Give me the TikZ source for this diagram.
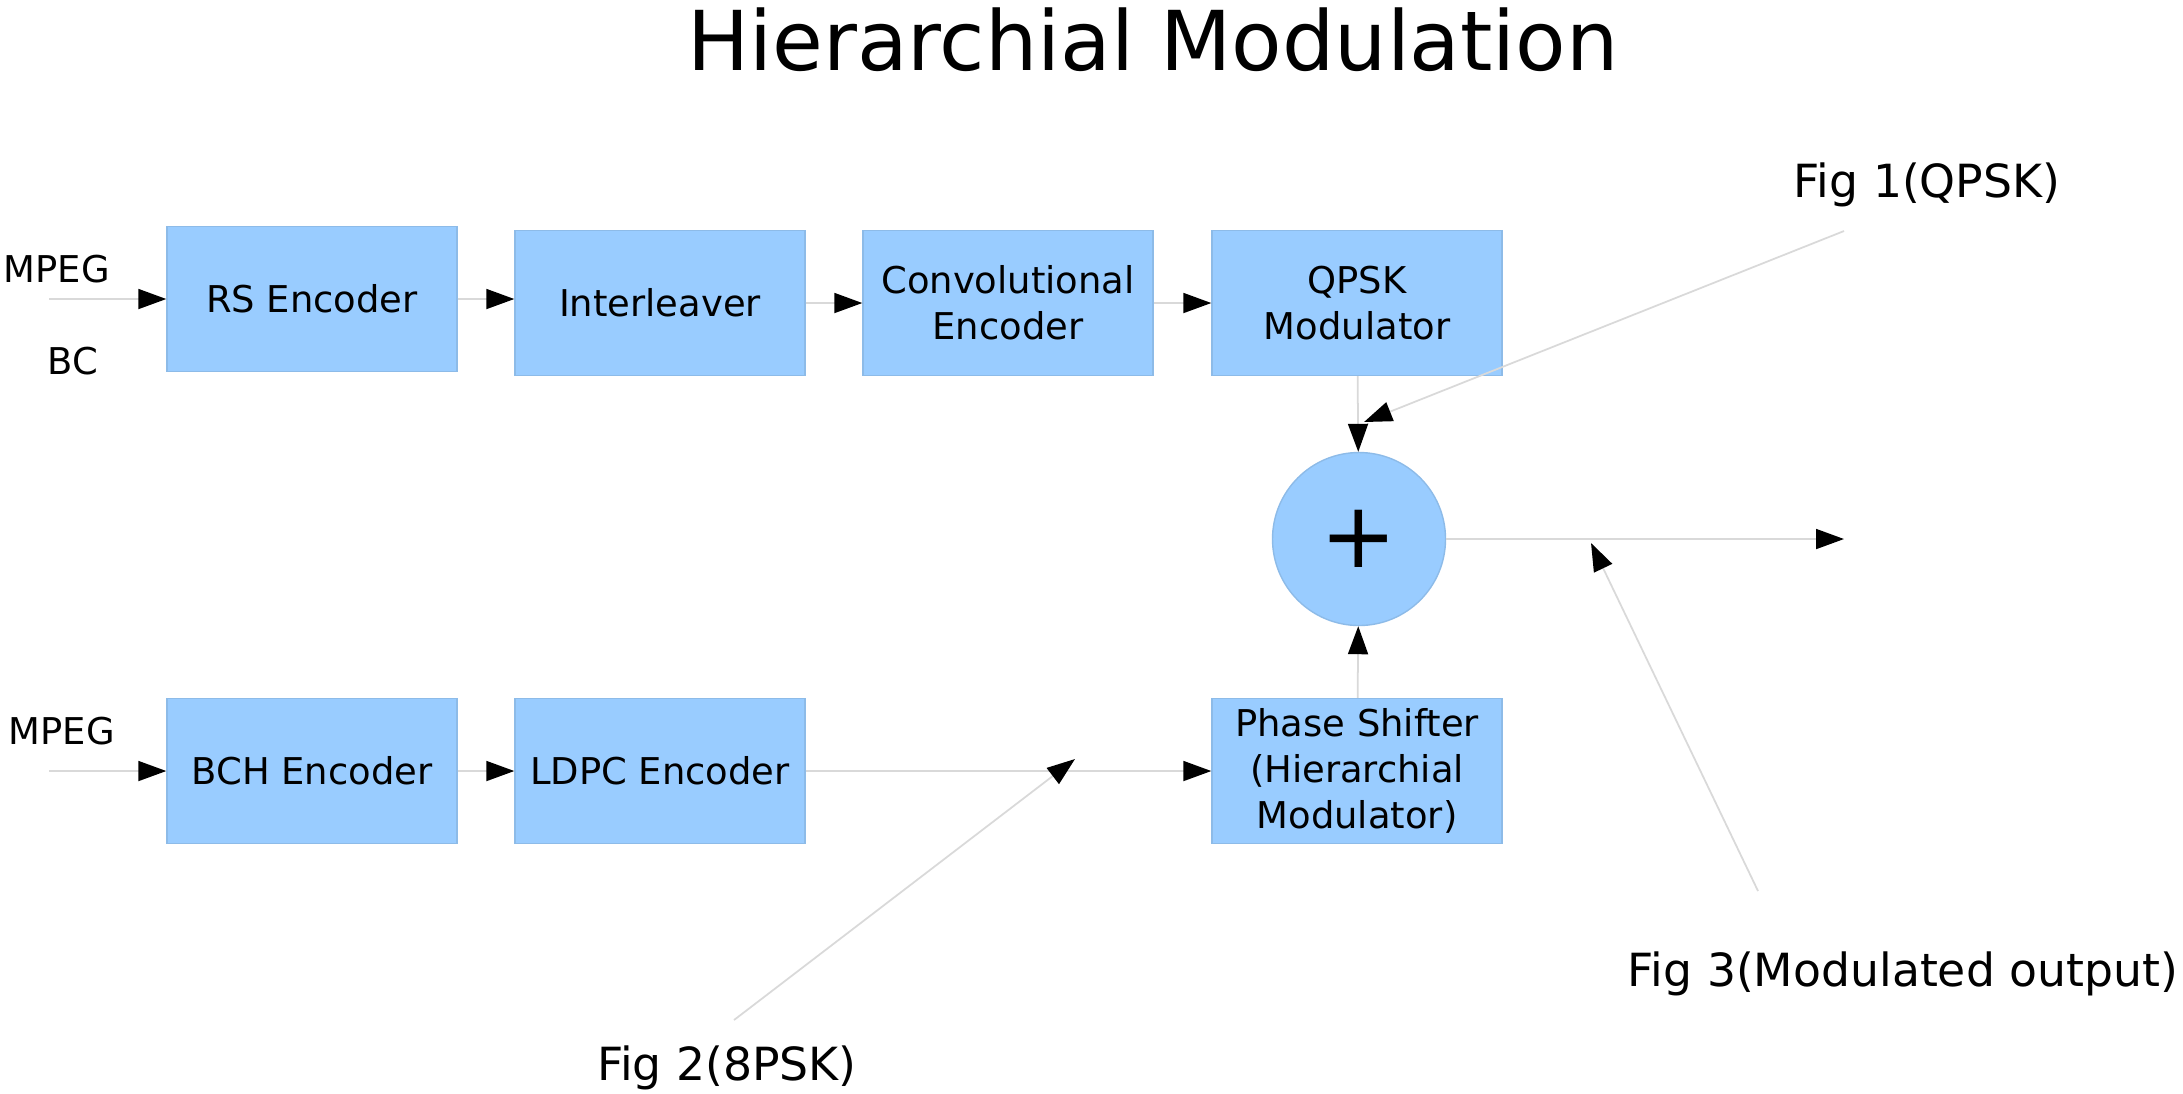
\documentclass[tikz,border=0pt]{standalone}
\usepackage{fontspec}
\setmainfont{DejaVu Sans}
\usetikzlibrary{arrows.meta}
\definecolor{blockfill}{HTML}{99CCFF}
\definecolor{blockedge}{HTML}{8DBBE8}
\begin{document}
\begin{tikzpicture}[x=1cm,y=1cm,
    block/.style={fill=blockfill,draw=blockedge,line width=0.4pt,
        minimum width=2.90cm,minimum height=1.45cm,inner sep=0pt,
        align=center,font=\fontsize{10.5}{13}\selectfont},
    sum/.style={circle,fill=blockfill,draw=blockedge,line width=0.4pt,
        minimum size=1.73cm,inner sep=0pt,font=\fontsize{26}{26}\selectfont},
    note/.style={font=\fontsize{13}{15}\selectfont},
    src/.style={inner sep=0pt,font=\fontsize{10.5}{13}\selectfont},
    link/.style={draw=black!15,line width=0.5pt,
        -{Triangle[length=0.28cm,width=0.20cm,color=black]}}]
    \useasboundingbox (0,0) rectangle (21.83,-10.93);
    \node[anchor=base,font=\fontsize{23.5}{26}\selectfont] (title) at (11.53,-0.70)
        {Hierarchial Modulation};

    \node[block] (rs) at (3.12,-2.99) {RS Encoder};
    \node[block] (ilv) at (6.60,-3.03) {Interleaver};
    \node[block] (conv) at (10.08,-3.03) {Convolutional\\Encoder};
    \node[block] (qpsk) at (13.57,-3.03) {QPSK\\Modulator};
    \node[sum] (add) at (13.59,-5.39) {+};
    \node[block] (bch) at (3.12,-7.71) {BCH Encoder};
    \node[block] (ldpc) at (6.60,-7.71) {LDPC Encoder};
    \node[block] (phase) at (13.57,-7.71)
        {Phase Shifter\\(Hierarchial\\Modulator)};

    \node[src,anchor=west] (mpega) at (0.03,-2.69) {MPEG};
    \node[src,anchor=east] (bc) at (0.99,-3.61) {BC};
    \node[src,anchor=west] (mpegb) at (0.08,-7.31) {MPEG};
    \coordinate (ina) at (0.49,-2.99);
    \coordinate (inb) at (0.49,-7.71);

    \draw[link] (ina) -- (rs);
    \draw[link] (rs.east) -- (ilv.west |- rs.east);
    \draw[link] (ilv) -- (conv);
    \draw[link] (conv) -- (qpsk);
    \draw[link] (qpsk) -- (add);
    \draw[link] (inb) -- (bch);
    \draw[link] (bch) -- (ldpc);
    \draw[link] (ldpc) -- (phase);
    \draw[link] (phase) -- (add);
    \coordinate (out) at (18.44,-5.39);
    \draw[link] (add) -- (out);

    \node[note] (fig1) at (19.27,-1.85) {Fig 1(QPSK)};
    \node[note] (fig2) at (7.27,-10.68) {Fig 2(8PSK)};
    \node[note] (fig3) at (19.03,-9.74) {Fig 3(Modulated output)};
    \coordinate (tip1) at (13.64,-4.22);
    \coordinate (tip2) at (10.75,-7.59);
    \coordinate (tip3) at (15.91,-5.43);
    \draw[link] (18.44,-2.31) -- (tip1);
    \draw[link] (7.34,-10.20) -- (tip2);
    \draw[link] (17.58,-8.91) -- (tip3);
\end{tikzpicture}
\end{document}
